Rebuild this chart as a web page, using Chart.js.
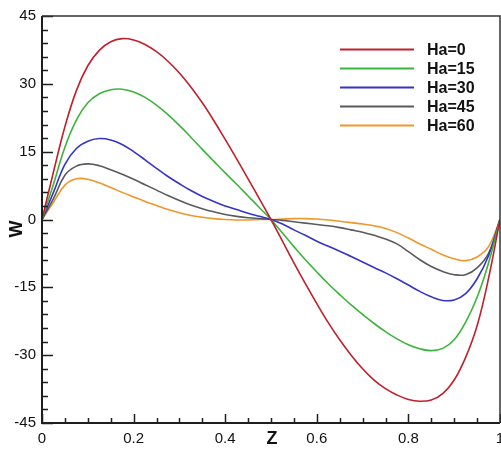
<!DOCTYPE html>
<html>
<head>
<meta charset="utf-8">
<script src="https://cdn.jsdelivr.net/npm/chart.js@4.4.1/dist/chart.umd.min.js"></script>
<style>
  html, body { margin: 0; padding: 0; background: #fff; }
</style>
</head>
<body>
<canvas id="chartW" width="501" height="450"></canvas>
<script>
const zValues = [0, 0.025, 0.05, 0.075, 0.1, 0.125, 0.15, 0.175, 0.2, 0.225,
                 0.25, 0.275, 0.3, 0.325, 0.35, 0.375, 0.4, 0.425, 0.45, 0.475,
                 0.5, 0.525, 0.55, 0.575, 0.6, 0.625, 0.65, 0.675, 0.7, 0.725,
                 0.75, 0.775, 0.8, 0.825, 0.85, 0.875, 0.9, 0.925, 0.95, 0.975, 1];

const wHa0  = [0, 10.5, 20.5, 28.5, 34, 37.4, 39.3, 40, 39.7, 38.7,
               37.1, 35, 32.4, 29.3, 25.8, 21.9, 17.7, 13.4, 9, 4.5,
               0, -4.8, -9.6, -14.2, -18.6, -22.8, -26.6, -30, -33, -35.5,
               -37.4, -38.8, -39.8, -40.2, -39.9, -38.5, -35.5, -30.5, -23.5, -13, 0];
const wHa15 = [0, 7.8, 16, 22, 25.8, 27.8, 28.7, 28.8, 28.2, 27,
               25.3, 23.2, 20.8, 18.2, 15.5, 12.9, 10.3, 7.8, 5.2, 2.6,
               0, -3, -6, -8.9, -11.6, -14.2, -16.6, -18.9, -21, -23,
               -24.8, -26.4, -27.7, -28.6, -29, -28.5, -26.6, -22.7, -17.2, -9.6, 0];
const wHa30 = [0, 6, 12.2, 15.7, 17.3, 17.9, 17.6, 16.6, 15, 13.2,
               11.3, 9.5, 7.9, 6.4, 5.1, 4, 3, 2.2, 1.4, 0.7,
               0, -1, -2.3, -3.5, -4.8, -5.9, -7, -8.2, -9.4, -10.6,
               -11.8, -13.1, -14.5, -15.9, -17.1, -17.9, -17.8, -16.4, -13.1, -8, 0];
const wHa45 = [0, 4.6, 9.8, 11.8, 12.3, 11.9, 11, 10, 8.9, 7.7,
               6.5, 5.3, 4.2, 3.2, 2.4, 1.7, 1.1, 0.7, 0.4, 0.2,
               0, -0.2, -0.5, -0.8, -1.1, -1.4, -1.8, -2.3, -2.8, -3.5,
               -4.3, -5.4, -7.1, -8.9, -10.4, -11.5, -12.2, -12.2, -10.7, -7.5, 0];
const wHa60 = [0, 3.8, 7.6, 9, 8.9, 8.1, 7.1, 6, 5, 4,
               3.1, 2.2, 1.5, 0.9, 0.5, 0.2, 0, -0.1, -0.1, 0,
               0, 0.1, 0.2, 0.2, 0.1, -0.1, -0.4, -0.7, -1, -1.4,
               -2, -2.9, -4.1, -5.4, -6.6, -7.8, -8.7, -9.1, -8.3, -6, 0];

const seriesLabels = ['Ha=0', 'Ha=15', 'Ha=30', 'Ha=45', 'Ha=60'];
const seriesValues = [wHa0, wHa15, wHa30, wHa45, wHa60];
const lineColors = ['#c0202c', '#3cb43c', '#3434c8', '#5a5a5a', '#f0962a'];

const xMin = 0, xMax = 1, xStep = 0.2, xMinorStep = 0.05;
const yMin = -45, yMax = 45, yStep = 15, yMinorStep = 3;

const FONT = '"Liberation Sans", Arial, sans-serif';

// frame, inward tick marks, axis letters and legend
const framePlugin = {
    id: 'framePlugin',
    afterDraw(chart) {
        const { ctx, chartArea: a, scales: { x, y } } = chart;
        ctx.save();
        ctx.strokeStyle = '#1e1e1e';

        // ticks on the left axis
        ctx.lineWidth = 1.5;
        const nY = Math.round((yMax - yMin) / yMinorStep);
        for (let i = 0; i <= nY; i++) {
            const v = yMin + i * yMinorStep;
            const py = Math.round(y.getPixelForValue(v)) + 0.5;
            const len = (v % yStep === 0) ? 11 : 6;
            ctx.beginPath(); ctx.moveTo(a.left, py); ctx.lineTo(a.left + len, py); ctx.stroke();
        }
        // ticks on the bottom axis
        const nX = Math.round((xMax - xMin) / xMinorStep);
        const perMajor = Math.round(xStep / xMinorStep);
        for (let i = 0; i <= nX; i++) {
            const px = Math.round(x.getPixelForValue(xMin + i * xMinorStep)) + 0.5;
            const len = (i % perMajor === 0) ? 9 : 5;
            ctx.beginPath(); ctx.moveTo(px, a.bottom); ctx.lineTo(px, a.bottom - len); ctx.stroke();
        }

        // frame
        ctx.lineWidth = 2;
        ctx.beginPath();
        ctx.moveTo(a.left, a.top); ctx.lineTo(a.left, a.bottom); ctx.lineTo(a.right, a.bottom);
        ctx.stroke();
        ctx.lineWidth = 1.5;
        ctx.strokeStyle = '#333';
        ctx.beginPath();
        ctx.moveTo(a.left, a.top); ctx.lineTo(a.right, a.top); ctx.lineTo(a.right, a.bottom);
        ctx.stroke();

        // axis letters
        ctx.fillStyle = '#111';
        ctx.font = 'bold 18px ' + FONT;
        ctx.textAlign = 'center';
        ctx.textBaseline = 'middle';
        ctx.fillText('Z', 272, 439);
        ctx.save();
        ctx.translate(17, 229);
        ctx.rotate(-Math.PI / 2);
        ctx.fillText('W', 0, 0);
        ctx.restore();

        // legend
        ctx.font = 'bold 16px ' + FONT;
        ctx.textAlign = 'left';
        chart.data.datasets.forEach((ds, i) => {
            const ly = 49.5 + i * 19;
            ctx.strokeStyle = ds.borderColor;
            ctx.lineWidth = 2;
            ctx.beginPath(); ctx.moveTo(340, ly); ctx.lineTo(414, ly); ctx.stroke();
            ctx.fillStyle = '#111';
            ctx.fillText(ds.label, 427, ly + 1);
        });
        ctx.restore();
    }
};

new Chart(document.getElementById('chartW'), {
    type: 'line',
    data: {
        datasets: seriesLabels.map((label, i) => ({
            label: label,
            data: zValues.map((z, k) => ({ x: z, y: seriesValues[i][k] })),
            borderColor: lineColors[i],
            backgroundColor: lineColors[i],
            borderWidth: 1.6,
            pointRadius: 0,
            tension: 0.4,
            fill: false
        }))
    },
    options: {
        responsive: false,
        animation: false,
        devicePixelRatio: 1,
        layout: { padding: { top: 16, right: 1, left: 0, bottom: 0 } },
        plugins: { legend: { display: false }, tooltip: { enabled: false } },
        scales: {
            x: {
                type: 'linear',
                min: xMin, max: xMax,
                grid: { display: false, drawTicks: false },
                border: { display: false },
                ticks: {
                    stepSize: xStep,
                    padding: 7,
                    maxRotation: 0,
                    color: '#111',
                    font: { family: FONT, size: 15 },
                    callback: v => (v === 0 || v === 1) ? String(v) : v.toFixed(1)
                },
                afterFit(scale) { scale.height = 27; scale.paddingLeft = 0; scale.paddingRight = 0; }
            },
            y: {
                min: yMin, max: yMax,
                grid: { display: false, drawTicks: false },
                border: { display: false },
                ticks: {
                    stepSize: yStep,
                    padding: 6,
                    color: '#111',
                    font: { family: FONT, size: 15 },
                    callback: v => String(v)
                },
                afterFit(scale) { scale.width = 42; scale.paddingTop = 0; scale.paddingBottom = 0; }
            }
        }
    },
    plugins: [framePlugin]
});
</script>
</body>
</html>
